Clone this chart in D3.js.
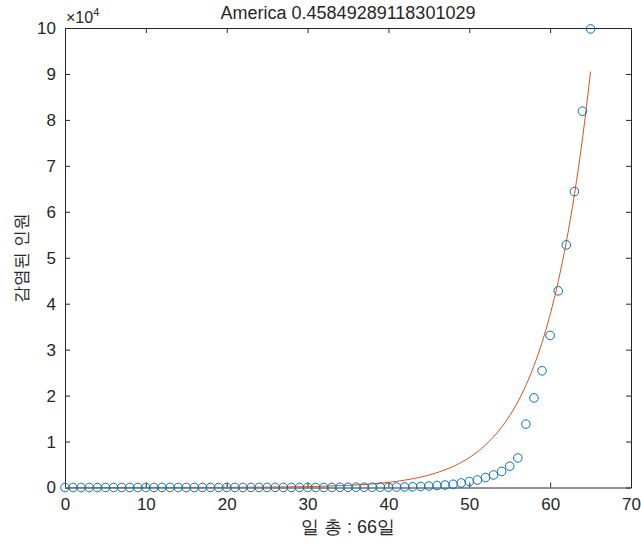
<!DOCTYPE html>
<html>
<head>
<meta charset="utf-8">
<script src="https://cdn.jsdelivr.net/npm/d3@7"></script>
<style>
  body { margin: 0; background: #fff; }
  text { font-family: "Liberation Sans", Arial, sans-serif; fill: #262626; }
</style>
</head>
<body>
<div id="chart"></div>
<script>
// confirmed cases per day (day 0 .. 65)
var cases = [1, 1, 1, 2, 2, 5, 5, 5, 5, 5, 7,
  8, 8, 11, 11, 11, 11, 11, 11, 11, 11, 12, 12, 13, 13, 13, 13, 13, 13, 13, 13,
  15, 15, 15, 51, 51, 57, 58, 60, 68,
  75, 100, 124, 158, 221, 319, 435, 541, 704, 994, 1301, 1630, 2183, 2726,
  3499, 4632, 6421, 13800, 19500, 25400, 33100, 42800, 52800, 64400, 81900, 99800];

var fitDays = [0, 5, 10, 15, 20, 25, 30, 35, 36, 37, 38, 39, 40, 41, 42, 43, 44, 45,
  46, 47, 48, 49, 50, 51, 52, 53, 54, 55, 56, 57, 58, 59, 60, 61, 62, 63, 64, 65];
var fitVals = [1, 2, 6, 14, 34, 81, 194, 467, 556, 663, 790, 942, 1123, 1339, 1596,
  1902, 2267, 2702, 3221, 3839, 4576, 5454, 6501, 7749, 9236, 11008, 13121, 15640,
  18640, 22220, 26480, 31570, 37630, 44850, 53450, 63710, 75940, 90510];

var xTicks = [0, 10, 20, 30, 40, 50, 60, 70];
var yTicks = [0, 1, 2, 3, 4, 5, 6, 7, 8, 9, 10];

var titleText = "America 0.45849289118301029";
var xLabel = "일 총 : 66일";
var yLabel = "감염된 인원";

var W = 641, H = 548;
var margin = { top: 28, right: 10, bottom: 61, left: 65 };
var width = 631 - margin.left,
  height = 487.5 - margin.top;

var svg = d3.select("#chart")
  .append("svg")
  .attr("width", W)
  .attr("height", H);

var g = svg.append("g")
  .attr("transform", "translate(" + margin.left + "," + margin.top + ")");

var x = d3.scaleLinear().domain([0, 70]).range([0, width]);
var y = d3.scaleLinear().domain([0, 10]).range([height, 0]); // units of 10^4

// axes
var xAxis = g.append("g")
  .attr("transform", "translate(0," + height + ")")
  .call(d3.axisBottom(x).tickValues(xTicks).tickSizeInner(-5).tickSizeOuter(0).tickPadding(10));
var xTop = g.append("g")
  .call(d3.axisTop(x).tickValues(xTicks).tickSizeInner(-5).tickSizeOuter(0).tickFormat(""));
var yAxis = g.append("g")
  .call(d3.axisLeft(y).tickValues(yTicks).tickSizeInner(-5).tickSizeOuter(0).tickPadding(9));
var yRight = g.append("g")
  .attr("transform", "translate(" + width + ",0)")
  .call(d3.axisRight(y).tickValues(yTicks).tickSizeInner(-5).tickSizeOuter(0).tickFormat(""));

[xAxis, xTop, yAxis, yRight].forEach(function (a) {
  a.selectAll("path").attr("stroke", "#262626").attr("stroke-width", 1);
  a.selectAll("line").attr("stroke", "#262626");
  a.selectAll("text").style("font-size", "17px").attr("fill", "#262626");
});

// fitted curve
var fitData = fitDays.map(function (d, i) { return [d, fitVals[i]]; });
g.append("path")
  .datum(fitData)
  .attr("fill", "none")
  .attr("stroke", "#D95319")
  .attr("stroke-width", 1)
  .attr("d", d3.line()
    .x(function (d) { return x(d[0]); })
    .y(function (d) { return y(d[1] / 1e4); })
    .curve(d3.curveMonotoneX));

// data circles
g.append("g")
  .selectAll("circle")
  .data(cases)
  .enter()
  .append("circle")
  .attr("cx", function (d, i) { return x(i); })
  .attr("cy", function (d) { return y(d / 1e4); })
  .attr("r", 4.3)
  .attr("fill", "none")
  .attr("stroke", "#0072BD")
  .attr("stroke-width", 1);

// exponent
var ex = svg.append("text")
  .attr("x", margin.left + 1)
  .attr("y", 23)
  .style("font-size", "16px")
  .attr("fill", "#404040");
ex.append("tspan").text("\u00d710");
ex.append("tspan").attr("dy", -7).style("font-size", "11px").text("4");

// title
svg.append("text")
  .attr("x", margin.left + width / 2)
  .attr("y", 19)
  .attr("text-anchor", "middle")
  .style("font-size", "18px")
  .attr("fill", "#000")
  .text(titleText);

// axis labels
svg.append("text")
  .attr("x", margin.left + width / 2)
  .attr("y", 533)
  .attr("text-anchor", "middle")
  .style("font-size", "18px")
  .attr("fill", "#404040")
  .text(xLabel);

svg.append("text")
  .attr("transform", "translate(27," + (margin.top + height / 2) + ") rotate(-90)")
  .attr("text-anchor", "middle")
  .style("font-size", "17px")
  .attr("fill", "#404040")
  .text(yLabel);
</script>
</body>
</html>
